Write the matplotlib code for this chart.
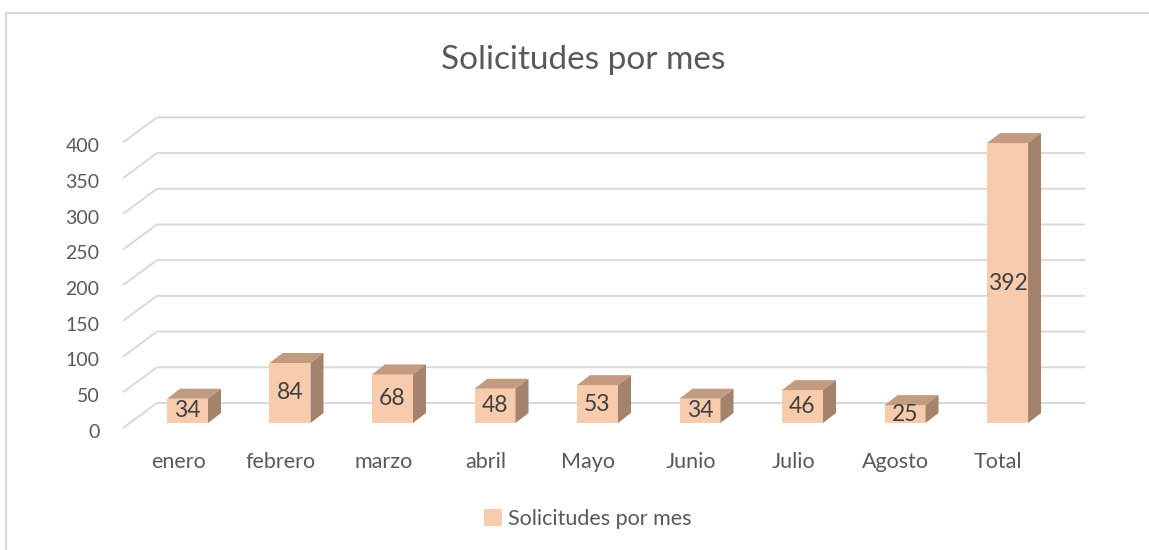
import matplotlib.pyplot as plt
from matplotlib.patches import Polygon
from matplotlib.lines import Line2D

meses = ['enero', 'febrero', 'marzo', 'abril', 'Mayo', 'Junio', 'Julio', 'Agosto', 'Total']
solicitudes = [34, 84, 68, 48, 53, 34, 46, 25, 392]
ticks_y = [0, 50, 100, 150, 200, 250, 300, 350, 400]

plt.rcParams['font.family'] = ['Lato', 'DejaVu Sans']

frente = '#F8CBAD'
tapa = '#C39B81'
lado = '#A4826C'
gris_txt = '#595959'
grid_col = '#D9D9D9'

# fake 3d: depth offsets in data units
ancho = 0.40
dx, dy = 0.127, 14

fig = plt.figure(figsize=(11.49, 5.5), dpi=100)
ax = fig.add_axes([0, 0, 1, 1])
ax.set_xlim(-1.829, 9.380)
ax.set_ylim(-177.9, 592.4)
ax.axis('off')

# back wall gridlines + floor diagonals
for t in ticks_y:
    ax.plot([-0.629, -0.298, 8.756], [t - 7, t + 28, t + 28], color=grid_col, lw=1.4, zorder=1,
            solid_capstyle='butt')
    ax.text(-0.86, t - 13, str(t), ha='right', va='center', fontsize=14, color=gris_txt)

x = list(range(len(meses)))
bars = ax.bar(x, solicitudes, width=ancho, color=frente, zorder=3, label='Solicitudes por mes')

for xi, v in zip(x, solicitudes):
    l, r = xi - ancho / 2, xi + ancho / 2
    ax.add_patch(Polygon([(l, v), (r, v), (r + dx, v + dy), (l + dx, v + dy)],
                         closed=True, facecolor=tapa, edgecolor='none', zorder=3))
    ax.add_patch(Polygon([(r, 0), (r, v), (r + dx, v + dy), (r + dx, dy)],
                         closed=True, facecolor=lado, edgecolor='none', zorder=3))
    ax.text(xi, v / 2, str(v), ha='center', va='center', fontsize=16.5, color='#404040', zorder=4)

for xi, m in zip(x, meses):
    ax.text(xi - 0.09, -54, m, ha='center', va='center', fontsize=15.5, color=gris_txt)

fig.text(583 / 1149, 1 - 60 / 550, 'Solicitudes por mes', ha='center', va='center',
         fontsize=24, color=gris_txt)

fig.legend(handles=[bars], loc='center', bbox_to_anchor=(588 / 1149, 1 - 519 / 550),
           frameon=False, fontsize=15.5, handlelength=0.8, handleheight=0.8,
           handletextpad=0.3, labelcolor=gris_txt)

# chart border (only top and left visible)
fig.add_artist(Line2D([6 / 1149, 6 / 1149, 1], [0, 1 - 13 / 550, 1 - 13 / 550],
                      transform=fig.transFigure, color=grid_col, lw=1.6))

fig.savefig('out.png', dpi=100)
